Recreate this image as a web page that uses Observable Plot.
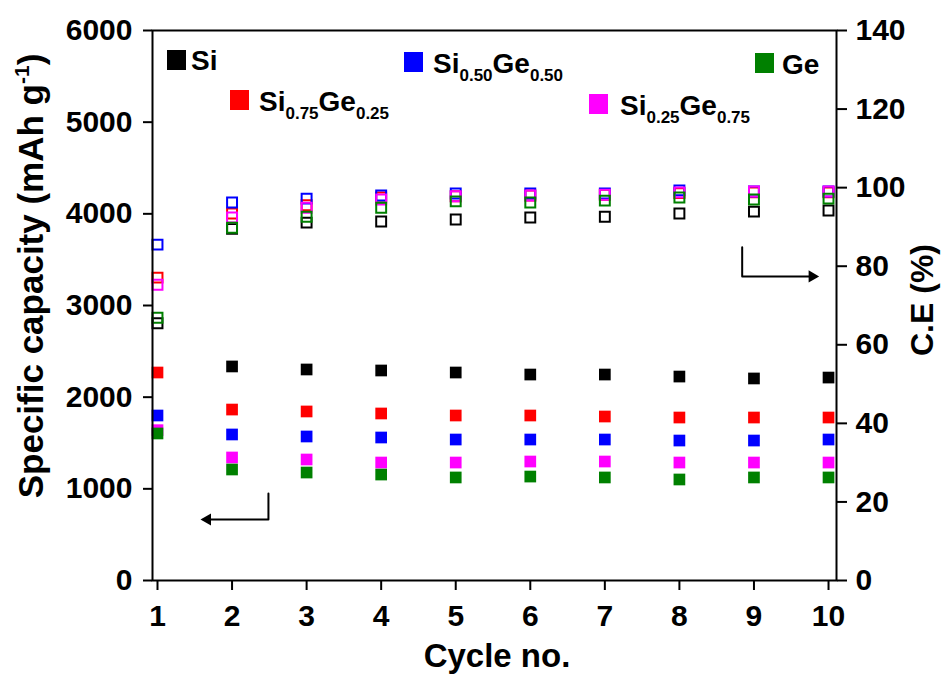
<!DOCTYPE html>
<html><head><meta charset="utf-8">
<script src="https://cdn.jsdelivr.net/npm/d3@7"></script>
<script src="https://cdn.jsdelivr.net/npm/@observablehq/plot@0.6"></script>
<style>
body{margin:0;background:#fff}
#chart{position:relative;width:943px;height:675px}
</style>
</head><body><div id="chart"></div>
<script>
// ---------- data ----------
const cycles = [1, 2, 3, 4, 5, 6, 7, 8, 9, 10];
const seriesNames = ["Si", "Si0.75Ge0.25", "Si0.50Ge0.50", "Si0.25Ge0.75", "Ge"];
const seriesColors = ["#000000", "#ff0000", "#0000ff", "#ff00ff", "#008000"];

// specific capacity (mAh g-1), filled squares, left axis
const capSi   = [null, 2335, 2302, 2291, 2269, 2247, 2247, 2225, 2204, 2214];
const capSi75 = [2269, 1865, 1844, 1822, 1800, 1800, 1789, 1778, 1778, 1778];
const capSi50 = [1800, 1593, 1571, 1560, 1538, 1538, 1538, 1527, 1527, 1538];
const capSi25 = [1640, 1342, 1320, 1287, 1287, 1298, 1298, 1287, 1287, 1287];
const capGe   = [1604, 1211, 1178, 1156, 1124, 1134, 1124, 1102, 1124, 1124];

// coulombic efficiency (%), open squares, right axis
const ceSi   = [65.5, 89.5, 91.1, 91.4, 91.9, 92.4, 92.6, 93.4, 93.9, 94.2];
const ceSi75 = [77.1, 93.4, 95.5, 97.5, 97.8, 98.0, 98.2, 98.6, 98.8, 98.8];
const ceSi50 = [85.5, 96.2, 97.2, 98.0, 98.5, 98.5, 98.5, 99.3, 99.0, 99.0];
const ceSi25 = [75.3, 92.4, 94.9, 97.0, 97.8, 98.0, 98.2, 98.8, 99.0, 99.0];
const ceGe   = [66.9, 89.8, 92.6, 94.9, 96.5, 96.2, 96.7, 97.5, 97.0, 97.2];

const capTicks = [0, 1000, 2000, 3000, 4000, 5000, 6000];
const ceTicks = [0, 20, 40, 60, 80, 100, 120, 140];

// annotation arrows (data units)
const arrowLeftX = [2.488, 2.488, 1.617];
const arrowLeftCap = [949, 665, 665];
const arrowRightX = [8.842, 8.842, 9.834];
const arrowRightCe = [84.8, 77.4, 77.4];

// ---------- build ----------
const capMax = 6000, ceMax = 140;
const k = capMax / ceMax; // map CE onto capacity scale
const capAll = [capSi, capSi75, capSi50, capSi25, capGe];
const ceAll = [ceSi, ceSi75, ceSi50, ceSi25, ceGe];

const marks = [];
seriesNames.forEach((name, i) => {
  const ceData = cycles.map((c, j) => ({cycle: c, v: ceAll[i][j] * k}));
  marks.push(Plot.dot(ceData, {x: "cycle", y: "v", symbol: "square", r: 5.6,
    stroke: seriesColors[i], strokeWidth: 2, fill: "none"}));
});
seriesNames.forEach((name, i) => {
  const capData = cycles.map((c, j) => ({cycle: c, v: capAll[i][j]})).filter(d => d.v != null);
  marks.push(Plot.dot(capData, {x: "cycle", y: "v", symbol: "square", r: 6.6,
    fill: seriesColors[i], stroke: "none"}));
});

const leftArrow = arrowLeftX.map((x, i) => ({x, y: arrowLeftCap[i]}));
const rightArrow = arrowRightX.map((x, i) => ({x, y: arrowRightCe[i] * k}));
marks.push(Plot.line(leftArrow, {x: "x", y: "y", stroke: "black", strokeWidth: 2, curve: "linear"}));
marks.push(Plot.line(rightArrow, {x: "x", y: "y", stroke: "black", strokeWidth: 2, curve: "linear"}));
marks.push(Plot.dot([leftArrow[2]], {x: "x", y: "y", symbol: "triangle", r: 4.5, rotate: -90, fill: "black", dx: 4}));
marks.push(Plot.dot([rightArrow[2]], {x: "x", y: "y", symbol: "triangle", r: 4.5, rotate: 90, fill: "black", dx: -4}));

marks.push(Plot.axisX(cycles, {tickSize: 10, tickPadding: 14, strokeWidth: 2, tickFormat: d => String(d), label: null}));
marks.push(Plot.axisY(capTicks, {anchor: "left", tickSize: 9, tickPadding: 11, strokeWidth: 2, tickFormat: d => String(d), label: null}));
marks.push(Plot.axisY(ceTicks.map(v => v * k), {anchor: "right", tickSize: 10, tickPadding: 9, strokeWidth: 2, tickFormat: d => String(Math.round(d / k)), label: null}));
marks.push(Plot.frame({stroke: "black", strokeWidth: 2}));

const plot = Plot.plot({
  width: 943, height: 675,
  marginLeft: 152, marginRight: 107, marginTop: 30, marginBottom: 95,
  x: {domain: [0.933, 10.107]},
  y: {domain: [0, capMax]},
  style: {fontFamily: "'Liberation Sans', Arial, sans-serif", fontSize: "30px", fontWeight: "bold", color: "black", background: "white"},
  marks
});
document.getElementById("chart").appendChild(plot);

// ---------- titles & legend ----------
const svg = d3.select(plot);
const FONT = "'Liberation Sans', Arial, sans-serif";

function addText(g, parts, subSize, subDy) {
  parts.forEach(([t, kind]) => {
    const ts = g.append("tspan").text(t);
    if (kind === "sub") ts.attr("font-size", subSize).attr("dy", subDy);
    else if (kind === "sup") ts.attr("font-size", subSize).attr("dy", -subDy);
    else if (kind === "back") ts.attr("dy", subDy);
    else if (kind === "backup") ts.attr("dy", -subDy);
  });
}

// left axis title
const lt = svg.append("text").attr("transform", "translate(43,276) rotate(-90)")
  .attr("text-anchor", "middle").attr("font-family", FONT).attr("font-weight", "bold")
  .attr("font-size", 35).attr("fill", "black");
addText(lt, [["Specific capacity (mAh g", ""], ["-1", "sup"], [")", "back"]], 21, 14);

// right axis title
svg.append("text").attr("transform", "translate(933,300) rotate(-90)")
  .attr("text-anchor", "middle").attr("font-family", FONT).attr("font-weight", "bold")
  .attr("font-size", 32).attr("fill", "black").text("C.E (%)");

// x axis title
svg.append("text").attr("x", 497).attr("y", 667)
  .attr("text-anchor", "middle").attr("font-family", FONT).attr("font-weight", "bold")
  .attr("font-size", 33).attr("fill", "black").text("Cycle no.");

// legend
const legendParts = [
  [["Si", ""]],
  [["Si", ""], ["0.75", "sub"], ["Ge", "backup"], ["0.25", "sub"]],
  [["Si", ""], ["0.50", "sub"], ["Ge", "backup"], ["0.50", "sub"]],
  [["Si", ""], ["0.25", "sub"], ["Ge", "backup"], ["0.75", "sub"]],
  [["Ge", ""]]
];
const legendLayout = [
  {rx: 167, ry: 50, tx: 191, ty: 70},
  {rx: 230, ry: 90, tx: 259, ty: 111},
  {rx: 404, ry: 52, tx: 433, ty: 73},
  {rx: 589, ry: 94, tx: 620, ty: 115},
  {rx: 755, ry: 53, tx: 782, ty: 74}
];
seriesNames.forEach((name, i) => {
  const L = legendLayout[i];
  svg.append("rect").attr("x", L.rx).attr("y", L.ry).attr("width", 19).attr("height", 20)
    .attr("fill", seriesColors[i]);
  const t = svg.append("text").attr("x", L.tx).attr("y", L.ty).attr("text-anchor", "start")
    .attr("font-family", FONT).attr("font-weight", "bold").attr("font-size", 28).attr("fill", "black");
  addText(t, legendParts[i], 17, 8);
});
</script>
</body></html>
